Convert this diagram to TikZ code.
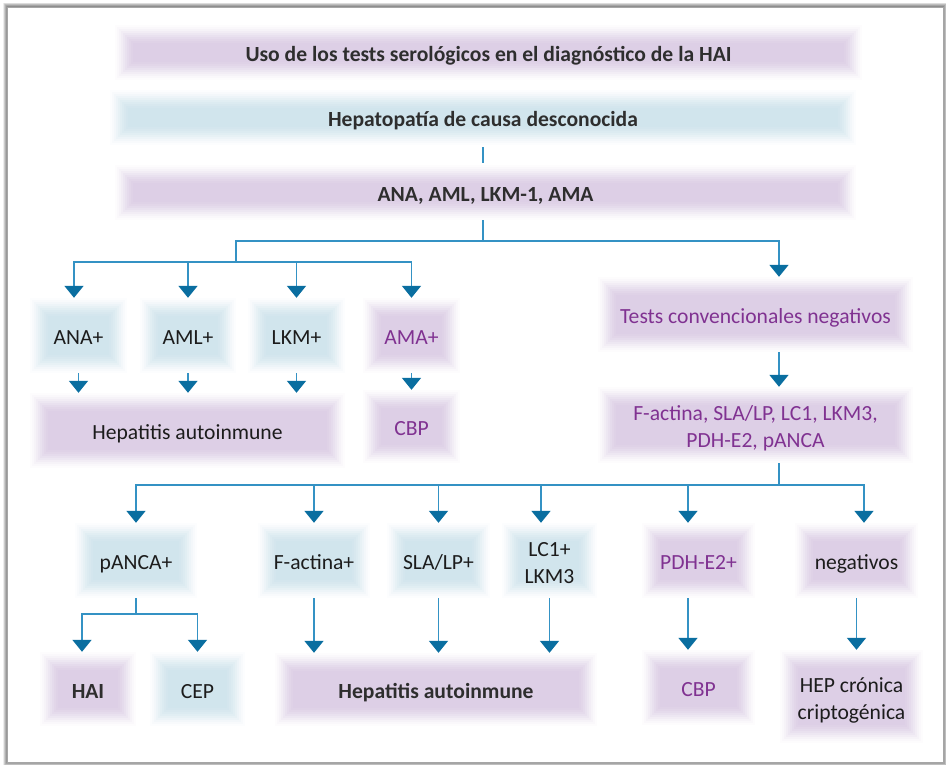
\documentclass[tikz,border=0pt]{standalone}
\usepackage{fontspec}
\setmainfont{Carlito}
\usetikzlibrary{arrows.meta}
\definecolor{pbox}{RGB}{218,203,228}
\definecolor{bbox}{RGB}{205,227,236}
\definecolor{ptext}{RGB}{128,50,145}
\definecolor{dtext}{RGB}{28,28,28}
\definecolor{lineblue}{RGB}{52,146,196}
\definecolor{headblue}{RGB}{10,110,160}
\begin{document}
\begin{tikzpicture}[x=1pt,y=-1pt,
  soft/.style={fill=white,path picture={\foreach \i in {0,...,9}{\pgfmathsetmacro{\op}{0.05+0.03*\i}\fill[#1,fill opacity=\op] ([shift={(\i*2pt,-\i*2pt)}]path picture bounding box.north west) rectangle ([shift={(-\i*2pt,\i*2pt)}]path picture bounding box.south east);}}},
  sz/.style 2 args={minimum width=#1pt,minimum height=#2pt},
  box/.style={inner sep=0pt,align=center,font=\fontsize{21.6}{27}\selectfont,text=dtext,text height=18pt,text depth=0pt},
  two/.style={text height=45pt,text depth=0pt},
  bold/.style={font=\fontsize{21.6}{27}\selectfont\bfseries,text=black!82},
  ln/.style={draw=lineblue,line width=1.8pt},
  arr/.style={ln,-{Triangle[width=19pt,length=12pt,color=headblue]}}]
\useasboundingbox (0,0) rectangle (946,765);
% frame with shadow
\foreach \k in {1,...,8}{\draw[black,opacity=0.07,line width=\k pt] (7,7) rectangle (943,762);}
\fill[white] (7,7) rectangle (943,762);
\draw[black!35,line width=0.6pt] (7,7) rectangle (943,762);
% top boxes
\node[box,bold,soft=pbox,sz={747}{55}] (title) at (488.5,52.5) {Uso de los tests serológicos en el diagnóstico de la HAI};
\node[box,bold,soft=bbox,sz={746}{55}] (hep) at (483,117.5) {Hepatopatía de causa desconocida};
\node[box,bold,soft=pbox,sz={741}{55}] (ana3) at (485.5,192.5) {ANA, AML, LKM-1, AMA};
% row 2
\node[box,soft=bbox,sz={97}{75}] (ana) at (78.5,335.5) {ANA+};
\node[box,soft=bbox,sz={96}{75}] (aml) at (188,335.5) {AML+};
\node[box,soft=bbox,sz={97}{75}] (lkm) at (296.5,335.5) {LKM+};
\node[box,soft=pbox,sz={97}{75},text=ptext] (ama) at (411.5,335.5) {AMA+};
\node[box,soft=pbox,sz={315}{75}] (hai1) at (187.5,430.5) {Hepatitis autoinmune};
\node[box,soft=pbox,sz={97}{73},text=ptext] (cbp1) at (411.5,426.5) {CBP};
\node[box,soft=pbox,sz={315}{75},text=ptext] (tcn) at (755.5,314.5) {Tests convencionales negativos};
\node[box,two,soft=pbox,sz={315}{76},text=ptext] (fact) at (755.5,425) {F-actina, SLA/LP, LC1, LKM3,\\PDH-E2, pANCA};
% row 3
\node[box,soft=bbox,sz={122}{75}] (panca) at (136,560.5) {pANCA+};
\node[box,soft=bbox,sz={112}{75}] (factp) at (314,560.5) {F-actina+};
\node[box,soft=bbox,sz={103}{75}] (slap) at (438.5,560.5) {SLA/LP+};
\node[box,two,soft=bbox,sz={95}{75}] (lc1) at (549.5,560.5) {LC1+\\LKM3};
\node[box,soft=pbox,sz={113}{75},text=ptext] (pdh) at (698.5,560.5) {PDH-E2+};
\node[box,soft=pbox,sz={123}{75}] (neg) at (856.5,560.5) {negativos};
% row 4
\node[box,bold,soft=pbox,sz={96}{74}] (hai2) at (88,689) {HAI};
\node[box,soft=bbox,sz={95}{74}] (cep) at (197.5,689) {CEP};
\node[box,bold,soft=pbox,sz={322}{73}] (hai3) at (436,689.5) {Hepatitis autoinmune};
\node[box,soft=pbox,sz={113}{75},text=ptext] (cbp2) at (698.5,687.5) {CBP};
\node[box,two,soft=pbox,sz={143}{93}] (hepc) at (851.5,696.5) {HEP crónica\\criptogénica};
% junctions
\coordinate (j1) at (483,241);
\coordinate (j2) at (236,262);
\coordinate (j3) at (779,485);
\coordinate (j4) at (136,614);
% connectors
\draw[ln] ([yshift=-2pt]hep.south -| j1) -- ([yshift=2pt]ana3.north -| j1);
\draw[ln] (ana3.south -| j1) -- (j1);
\draw[ln] (j1) -- (j1 -| j2) -- (j2);
\draw[arr] (j1) -| (tcn.north -| j3);
\draw[arr] (j2) -| ([xshift=-4.5pt]ana.north);
\draw[arr] (j2) -| (aml.north);
\draw[arr] (j2) -| (lkm.north);
\draw[arr] (j2) -| (ama.north);
\draw[arr] (ana.south) -- (ana.south |- hai1.north);
\draw[arr] (aml.south) -- (aml.south |- hai1.north);
\draw[arr] (lkm.south) -- (lkm.south |- hai1.north);
\draw[arr] (ama.south) -- (cbp1.north);
\draw[arr] (tcn.south -| j3) -- (fact.north -| j3);
\draw[ln] (fact.south -| j3) -- (j3);
\draw[arr] (j3) -| (panca.north);
\draw[arr] (j3) -| (factp.north);
\draw[arr] (j3) -| (slap.north);
\draw[arr] (j3) -| ([xshift=-8.5pt]lc1.north);
\draw[arr] (j3) -| ([xshift=-10.5pt]pdh.north);
\draw[arr] (j3) -| ([xshift=7.5pt]neg.north);
\draw[ln] (panca.south) -- (j4);
\draw[arr] (j4) -| ([xshift=-6pt]hai2.north);
\draw[arr] (j4) -| (cep.north);
\draw[arr] (factp.south) -- (factp.south |- hai3.north);
\draw[arr] (slap.south) -- (slap.south |- hai3.north);
\draw[arr] (lc1.south) -- (lc1.south |- hai3.north);
\draw[arr] ([xshift=-10.5pt]pdh.south) -- ([xshift=-10.5pt]cbp2.north);
\draw[arr] (neg.south) -- (neg.south |- hepc.north);
\end{tikzpicture}
\end{document}
